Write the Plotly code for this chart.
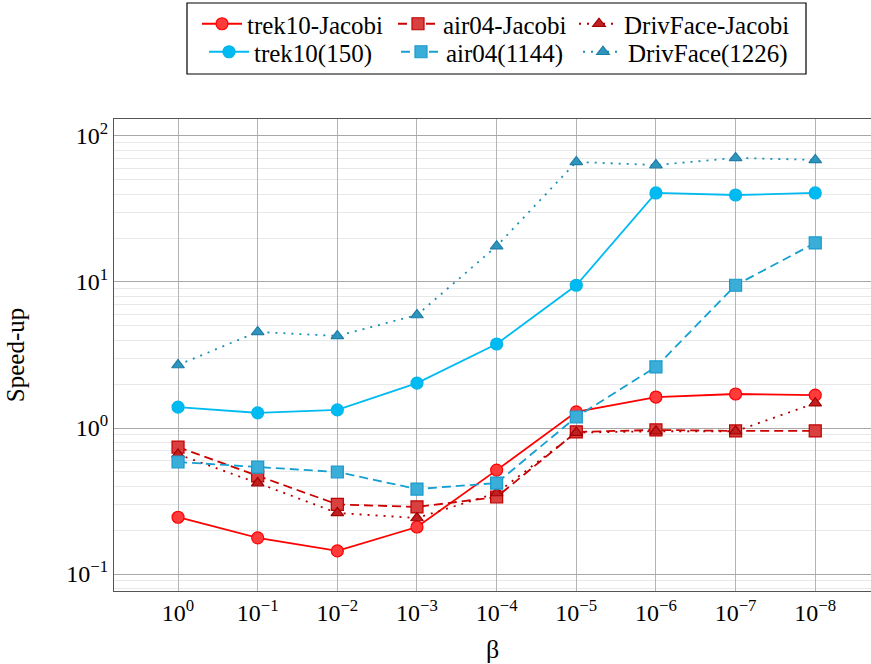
import plotly.graph_objects as go

# ---- data ----
beta_exponents = [0, -1, -2, -3, -4, -5, -6, -7, -8]
x_pos = list(range(len(beta_exponents)))
beta_labels = ["10<sup>%s</sup>" % (str(e).replace("-", "\u2212")) for e in beta_exponents]

trek10_jacobi = [0.245, 0.177, 0.144, 0.21, 0.515, 1.29, 1.63, 1.71, 1.68]
air04_jacobi = [0.74, 0.47, 0.30, 0.288, 0.337, 0.94, 0.97, 0.955, 0.955]
drivface_jacobi = [0.66, 0.42, 0.262, 0.242, 0.359, 0.93, 0.95, 0.95, 1.48]
trek10_150 = [1.39, 1.27, 1.33, 2.03, 3.76, 9.5, 40.7, 39.4, 40.7]
air04_1144 = [0.585, 0.54, 0.50, 0.382, 0.42, 1.19, 2.62, 9.5, 18.5]
drivface_1226 = [2.70, 4.55, 4.27, 5.94, 17.6, 66.4, 63.2, 70.7, 68.5]

y_tickvals = [0.1, 1, 10, 100]
y_ticktext = ["10<sup>\u22121</sup>", "10<sup>0</sup>", "10<sup>1</sup>", "10<sup>2</sup>"]

FONT = "Liberation Serif"

W, H = 871, 664
ML, MR, MT, MB = 114, 0, 119, 73
PW, PH = W - ML - MR, H - MT - MB


def px_x(p):
    return (p - ML) / PW


def px_y(p):
    return (H - MB - p) / PH


series = [
    ("trek10-Jacobi", trek10_jacobi, "#ff0000", "#ff3b3b", "#ff0000", "solid", "circle"),
    ("air04-Jacobi", air04_jacobi, "#cc0000", "#d94040", "#c00000", "dash", "square"),
    ("DrivFace-Jacobi", drivface_jacobi, "#b00000", "#c02020", "#a00000", "dot", "triangle-up"),
    ("trek10(150)", trek10_150, "#00bbf2", "#00bbf2", "#00b4ea", "solid", "circle"),
    ("air04(1144)", air04_1144, "#16a0d2", "#3aaed8", "#1a9acb", "dash", "square"),
    ("DrivFace(1226)", drivface_1226, "#1a8fb8", "#2f95bd", "#1e7ea6", "dot", "triangle-up"),
]

# legend cell placement (pixel where the entry text starts, row centre)
legend_cells = [(247, 24), (443, 24), (624, 24), (254, 52), (446, 52), (628, 52)]

fig = go.Figure()
layout_legends = {}
for i, (name, vals, lc, fc, ec, dash, sym) in enumerate(series):
    dashstyle = {"solid": "solid", "dash": "9px,5px", "dot": "2px,6px"}[dash]
    lname = "legend" if i == 0 else "legend%d" % (i + 1)
    fig.add_trace(go.Scatter(
        x=x_pos, y=vals, name=name, mode="lines+markers", legend=lname,
        line=dict(color=lc, width=1.8, dash=dashstyle),
        marker=dict(symbol=sym, size=12 if sym != "triangle-up" else 11,
                    color=fc, line=dict(color=ec, width=1.2)),
    ))
    tx, cy = legend_cells[i]
    layout_legends[lname] = dict(
        x=px_x(tx - 50), y=px_y(cy), xanchor="left", yanchor="middle",
        bgcolor="rgba(0,0,0,0)", borderwidth=0,
        font=dict(family=FONT, size=25, color="black"), itemwidth=40,
    )

fig.update_layout(
    width=W, height=H,
    margin=dict(l=ML, r=MR, t=MT, b=MB, autoexpand=False),
    paper_bgcolor="white", plot_bgcolor="white",
    font=dict(family=FONT, size=24, color="black"),
    showlegend=True,
    **layout_legends,
)
# legend frame
fig.add_shape(type="rect", xref="paper", yref="paper",
              x0=px_x(187), x1=px_x(806), y0=px_y(74), y1=px_y(3),
              line=dict(color="black", width=1.2), fillcolor="rgba(0,0,0,0)", layer="below")

fig.update_xaxes(
    range=[-0.804, 8.70], tickvals=x_pos, ticktext=beta_labels,
    showgrid=True, gridcolor="#b4b4b4", gridwidth=1,
    showline=True, linecolor="#555555", linewidth=1.2, mirror=True,
    ticks="", zeroline=False, automargin=False,
    title=dict(text="\u03b2", font=dict(family=FONT, size=26), standoff=14),
    tickfont=dict(family=FONT, size=24),
)
fig.update_yaxes(
    type="log", range=[-1.116, 2.116], tickvals=y_tickvals, ticktext=y_ticktext,
    showgrid=True, gridcolor="#a8a8a8", gridwidth=1,
    minor=dict(showgrid=True, gridcolor="#e8e8e8", dtick="D1", ticks=""),
    showline=True, linecolor="#555555", linewidth=1.2, mirror=False,
    ticks="", zeroline=False, automargin=False,
    title=dict(text="Speed-up", font=dict(family=FONT, size=25), standoff=34),
    tickfont=dict(family=FONT, size=24),
)

fig.write_html("out.html")
